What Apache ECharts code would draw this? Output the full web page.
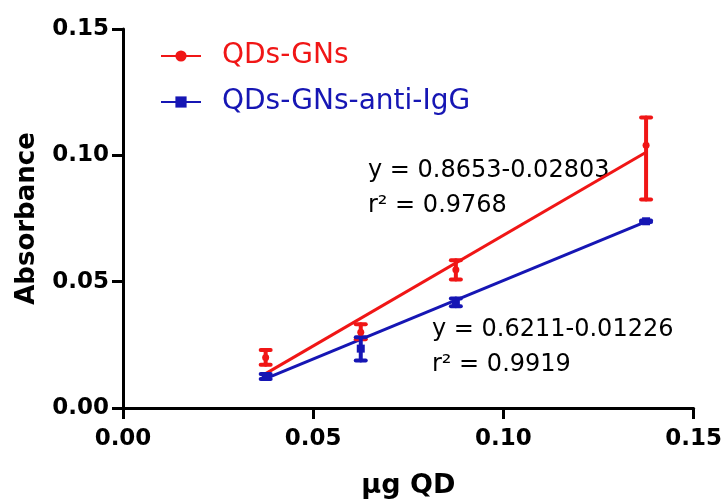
<!DOCTYPE html>
<html>
<head>
<meta charset="utf-8">
<script src="https://cdn.jsdelivr.net/npm/echarts@6/dist/echarts.min.js"></script>
<style>html,body{margin:0;padding:0;background:#fff}#c{width:725px;height:504px}</style>
</head>
<body>
<div id="c"></div>
<script>
// ---- data ----
const seriesNames = ['QDs-GNs', 'QDs-GNs-anti-IgG'];
const xValues = [0.0375, 0.0625, 0.0875, 0.1375];
const redMeans = [0.020, 0.030, 0.0547, 0.104];
const redLow  = [0.0171, 0.0272, 0.0509, 0.0825];
const redHigh = [0.0230, 0.0331, 0.0585, 0.1150];
const blueMeans = [0.0125, 0.0235, 0.0418, 0.0739];
const blueLow  = [0.0115, 0.0188, 0.0403, 0.0736];
const blueHigh = [0.0135, 0.0280, 0.0433, 0.0742];
// fitted line end points (x, y)
const redFitX = [0.0375, 0.1375];
const redFitY = [0.0136, 0.1012];
const blueFitX = [0.0375, 0.1375];
const blueFitY = [0.0116, 0.0738];
const eqRed = ['y = 0.8653-0.02803', 'r\u00B2 = 0.9768'];
const eqBlue = ['y = 0.6211-0.01226', 'r\u00B2 = 0.9919'];

const RED = '#f01616';
const BLUE = '#1616b4';
const FONT = 'DejaVu Sans';

function pairs(xs, ys) { return xs.map((x, i) => [x, ys[i]]); }
function errData(xs, lo, hi) { return xs.map((x, i) => [x, lo[i], hi[i]]); }

function errRender(color) {
  return function (params, api) {
    const x = api.value(0);
    const lo = api.coord([x, api.value(1)]);
    const hi = api.coord([x, api.value(2)]);
    const cw = 5;
    const st = { stroke: color, lineWidth: 4, lineCap: 'round' };
    return {
      type: 'group',
      children: [
        { type: 'line', shape: { x1: lo[0], y1: lo[1], x2: hi[0], y2: hi[1] }, style: st },
        { type: 'line', shape: { x1: lo[0] - cw, y1: lo[1], x2: lo[0] + cw, y2: lo[1] }, style: st },
        { type: 'line', shape: { x1: hi[0] - cw, y1: hi[1], x2: hi[0] + cw, y2: hi[1] }, style: st }
      ]
    };
  };
}

const axisCommon = {
  min: 0, max: 0.15, interval: 0.05,
  axisLine: { show: true, onZero: false, lineStyle: { color: '#000', width: 3 } },
  axisTick: { show: true, length: 11, lineStyle: { color: '#000', width: 3 } },
  splitLine: { show: false },
  axisLabel: {
    color: '#000', fontFamily: FONT, fontWeight: 'bold', fontSize: 23,
    formatter: v => v.toFixed(2)
  }
};

const chart = echarts.init(document.getElementById('c'), null, { renderer: 'canvas' });
chart.setOption({
  animation: false,
  backgroundColor: '#fff',
  grid: { left: 123, right: 30, top: 29, bottom: 95, containLabel: false },
  xAxis: Object.assign({}, axisCommon, {
    type: 'value',
    name: '\u03BCg QD', nameLocation: 'middle', nameGap: 64,
    nameTextStyle: { color: '#000', fontFamily: FONT, fontWeight: 'bold', fontSize: 27 },
    axisLabel: Object.assign({}, axisCommon.axisLabel, { margin: 20 })
  }),
  yAxis: Object.assign({}, axisCommon, {
    type: 'value',
    name: 'Absorbance', nameLocation: 'middle', nameGap: 83,
    nameTextStyle: { color: '#000', fontFamily: FONT, fontWeight: 'bold', fontSize: 26 },
    axisLabel: Object.assign({}, axisCommon.axisLabel, { margin: 14 })
  }),
  legend: {
    orient: 'vertical', left: 155, top: 37,
    itemWidth: 40, itemHeight: 14, itemGap: 18,
    data: [
      { name: seriesNames[0], textStyle: { color: RED } },
      { name: seriesNames[1], textStyle: { color: BLUE } }
    ],
    textStyle: { fontFamily: FONT, fontSize: 28, lineHeight: 28, padding: [0, 0, 0, 16] }
  },
  series: [
    {
      name: seriesNames[0], type: 'line', data: pairs(redFitX, redFitY),
      showSymbol: false, symbol: 'circle', symbolSize: 7,
      lineStyle: { color: RED, width: 3 }, itemStyle: { color: RED },
      legendHoverLink: false, z: 3
    },
    {
      name: seriesNames[1], type: 'line', data: pairs(blueFitX, blueFitY),
      showSymbol: false, symbol: 'rect', symbolSize: 8,
      lineStyle: { color: BLUE, width: 3 }, itemStyle: { color: BLUE },
      legendHoverLink: false, z: 3
    },
    {
      name: 'redErr', type: 'custom', data: errData(xValues, redLow, redHigh),
      renderItem: errRender(RED), encode: { x: 0, y: [1, 2] }, z: 4
    },
    {
      name: 'blueErr', type: 'custom', data: errData(xValues, blueLow, blueHigh),
      renderItem: errRender(BLUE), encode: { x: 0, y: [1, 2] }, z: 5
    },
    {
      name: 'redPts', type: 'scatter', data: pairs(xValues, redMeans),
      symbol: 'circle', symbolSize: 7, itemStyle: { color: RED, opacity: 1 }, z: 6
    },
    {
      name: 'bluePts', type: 'scatter', data: pairs(xValues, blueMeans),
      symbol: 'rect', symbolSize: 8, itemStyle: { color: BLUE, opacity: 1 }, z: 7
    }
  ],
  graphic: [
    { type: 'text', left: 368, top: 159, style: { text: eqRed[0], font: '24px "DejaVu Sans"', fill: '#000' } },
    { type: 'text', left: 368, top: 194, style: { text: eqRed[1], font: '24px "DejaVu Sans"', fill: '#000' } },
    { type: 'text', left: 432, top: 318, style: { text: eqBlue[0], font: '24px "DejaVu Sans"', fill: '#000' } },
    { type: 'text', left: 432, top: 353, style: { text: eqBlue[1], font: '24px "DejaVu Sans"', fill: '#000' } }
  ]
});
</script>
</body>
</html>
